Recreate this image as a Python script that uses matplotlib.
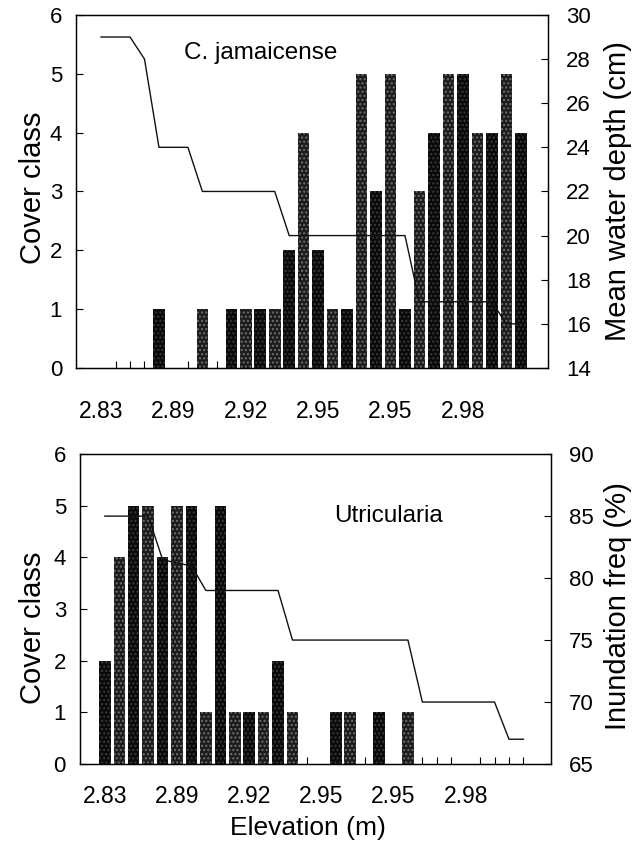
import numpy as np
import matplotlib
matplotlib.use('Agg')
import matplotlib.pyplot as plt

plt.rcParams['font.family'] = ['Liberation Sans', 'DejaVu Sans']
plt.rcParams['hatch.linewidth'] = 1.0

# categories along the elevation gradient (30 plots)
n_cat = 30
tick_pos = [0, 5, 10, 15, 20, 25]
tick_labels = ['2.83', '2.89', '2.92', '2.95', '2.95', '2.98']

# C. jamaicense cover class (category index -> class)
cj_idx = [4, 7, 9, 10, 11, 12, 13, 14, 15, 16, 17, 18, 19, 20, 21, 22, 23, 24, 25, 26, 27, 28, 29]
cj_cover = [1, 1, 1, 1, 1, 1, 2, 4, 2, 1, 1, 5, 3, 5, 1, 3, 4, 5, 5, 4, 4, 5, 4]
# mean water depth (cm) per category
depth = [29, 29, 29, 28, 24, 24, 24, 22, 22, 22, 22, 22, 22, 20, 20, 20, 20, 20, 20, 20,
         20, 20, 17, 17, 17, 17, 17, 17, 16, 16]

# Utricularia cover class
ut_idx = [0, 1, 2, 3, 4, 5, 6, 7, 8, 9, 10, 11, 12, 13, 16, 17, 19, 21]
ut_cover = [2, 4, 5, 5, 4, 5, 5, 1, 5, 1, 1, 1, 2, 1, 1, 1, 1, 1]
# inundation frequency (%) per category
inund = [85, 85, 85, 85, 81.5, 81.2, 81, 79, 79, 79, 79, 79, 79, 75, 75, 75, 75, 75, 75, 75,
         75, 75, 70, 70, 70, 70, 70, 70, 67, 67]


def draw_bars(ax, idx, vals):
    # scanned stipple: alternate near-black and slightly lighter stippled bars
    for i, (x, v) in enumerate(zip(idx, vals)):
        if i % 2 == 0:
            ax.bar(x, v, width=0.8, color='#0a0a0a', edgecolor='#3a3a3a', hatch='....', linewidth=0, zorder=2)
        else:
            ax.bar(x, v, width=0.8, color='#1c1c1c', edgecolor='#707070', hatch='....', linewidth=0, zorder=2)


def style_axes(ax, ax2, xpad):
    ax.set_xlim(-1.73, 30.9)
    ax.set_ylim(0, 6)
    ax.set_yticks(range(7))
    ax.set_xticks(tick_pos)
    ax.set_xticklabels(tick_labels)
    ax.set_xticks(range(n_cat), minor=True)
    ax.tick_params(axis='x', which='major', length=0, pad=xpad, labelsize=16.5)
    ax.tick_params(axis='x', which='minor', direction='in', length=5, width=0.8)
    ax.tick_params(axis='y', direction='in', length=5, width=0.8, pad=10, labelsize=16)
    ax2.tick_params(axis='y', direction='in', length=5, width=0.8, pad=13, labelsize=16)
    for a in (ax, ax2):
        for s in a.spines.values():
            s.set_linewidth(0.9)


fig = plt.figure(figsize=(6.39, 8.49), dpi=100)

# top panel
ax1 = fig.add_axes([0.119, 0.5666, 0.739, 0.4158])
draw_bars(ax1, cj_idx, cj_cover)
ax1b = ax1.twinx()
ax1b.plot(range(n_cat), depth, color='#111111', lw=1.0, zorder=3)
ax1b.set_ylim(14, 30)
ax1b.set_yticks(range(14, 31, 2))
style_axes(ax1, ax1b, 23)
ax1.text(0.39, 0.892, 'C. jamaicense', transform=ax1.transAxes, ha='center', va='center', fontsize=17.5)

# bottom panel
ax2 = fig.add_axes([0.125, 0.1001, 0.737, 0.365])
draw_bars(ax2, ut_idx, ut_cover)
ax2b = ax2.twinx()
ax2b.plot(range(n_cat), inund, color='#111111', lw=1.0, zorder=3)
ax2b.set_ylim(65, 90)
ax2b.set_yticks(range(65, 91, 5))
style_axes(ax2, ax2b, 15)
ax2.text(0.656, 0.80, 'Utricularia', transform=ax2.transAxes, ha='center', va='center', fontsize=17.5)

# axis titles
fig.text(0.052, 0.7786, 'Cover class', rotation=90, ha='center', va='center', fontsize=21)
fig.text(0.052, 0.2603, 'Cover class', rotation=90, ha='center', va='center', fontsize=21)
fig.text(0.967, 0.775, 'Mean water depth (cm)', rotation=90, ha='center', va='center', fontsize=21)
fig.text(0.967, 0.286, 'Inundation freq (%)', rotation=90, ha='center', va='center', fontsize=21)
fig.text(0.482, 0.0247, 'Elevation (m)', ha='center', va='center', fontsize=19)

fig.savefig('out.png', dpi=100)
